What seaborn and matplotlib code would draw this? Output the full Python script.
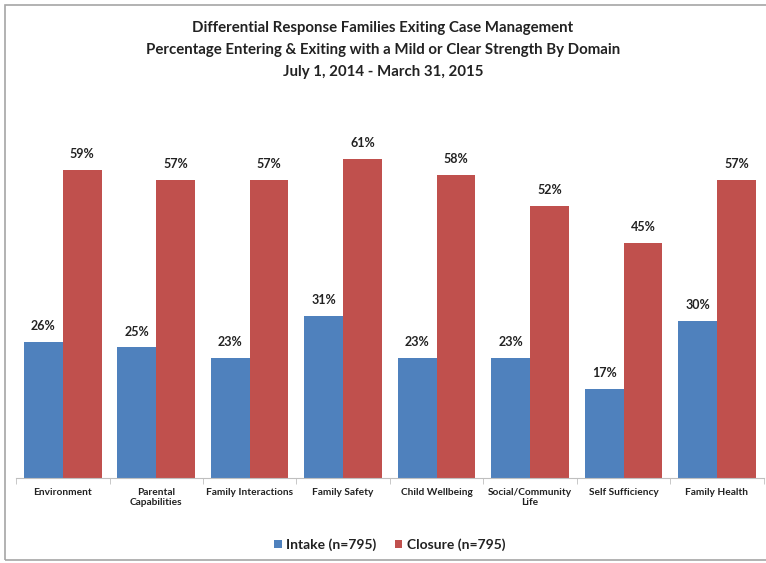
import pandas as pd
import numpy as np
import seaborn as sns
import matplotlib.pyplot as plt
from matplotlib.patches import Rectangle

domains = ["Environment", "Parental\nCapabilities", "Family Interactions", "Family Safety",
           "Child Wellbeing", "Social/Community\nLife", "Self Sufficiency", "Family Health"]
intake = [26, 25, 23, 31, 23, 23, 17, 30]
closure = [59, 57, 57, 61, 58, 52, 45, 57]
series = ["Intake (n=795)", "Closure (n=795)"]
colors = ["#4F81BD", "#C0504D"]

df = pd.DataFrame({
    "domain": domains * 2,
    "pct": intake + closure,
    "series": [series[0]] * len(domains) + [series[1]] * len(domains),
})

sns.set_style("white")
plt.rcParams["font.family"] = ["Lato", "DejaVu Sans"]

fig = plt.figure(figsize=(7.66, 5.63), dpi=100)
ax = fig.add_axes([0.021, 0.151, 0.976, 0.65])

sns.barplot(data=df, x="domain", y="pct", hue="series", palette=colors,
            width=0.83, gap=0.0, saturation=1, linewidth=0, ax=ax, legend=True)

for cont in ax.containers:
    ax.bar_label(cont, labels=[f"{v:.0f}%" for v in cont.datavalues],
                 padding=7, fontsize=9, fontweight="bold", color="#222222")

ax.set_ylim(0, 70)
ax.set_xlim(-0.5, len(domains) - 0.5)
ax.set_xlabel("")
ax.set_ylabel("")
ax.set_yticks([])
for s in ["top", "right", "left"]:
    ax.spines[s].set_visible(False)
ax.spines["bottom"].set_color("#bfbfbf")
ax.tick_params(axis="x", length=0, labelsize=7.3, pad=7, colors="#222222")
for lbl in ax.get_xticklabels():
    lbl.set_fontweight("bold")
ax.set_xticks(np.arange(-0.5, len(domains)), minor=True)
ax.tick_params(axis="x", which="minor", length=4, color="#bfbfbf", bottom=True)

leg = ax.legend(loc="center", bbox_to_anchor=(0.5, -0.183), ncol=2, frameon=False,
                fontsize=10, handlelength=0.55, handleheight=0.55, columnspacing=1.3,
                handletextpad=0.35)
for t in leg.get_texts():
    t.set_fontweight("bold")
    t.set_color("#222222")

fig.text(0.5, 0.911, "Differential Response Families Exiting Case Management\n"
         "Percentage Entering & Exiting with a Mild or Clear Strength By Domain\n"
         "July 1, 2014 - March 31, 2015",
         ha="center", va="center", fontsize=10.8, fontweight="bold",
         linespacing=1.75, color="#222222")

fig.patches.append(Rectangle((0.006, 0.005), 1.2, 0.987, transform=fig.transFigure,
                             fill=False, edgecolor="#a6a6a6", linewidth=1.2))

fig.savefig("out.png", dpi=100)
